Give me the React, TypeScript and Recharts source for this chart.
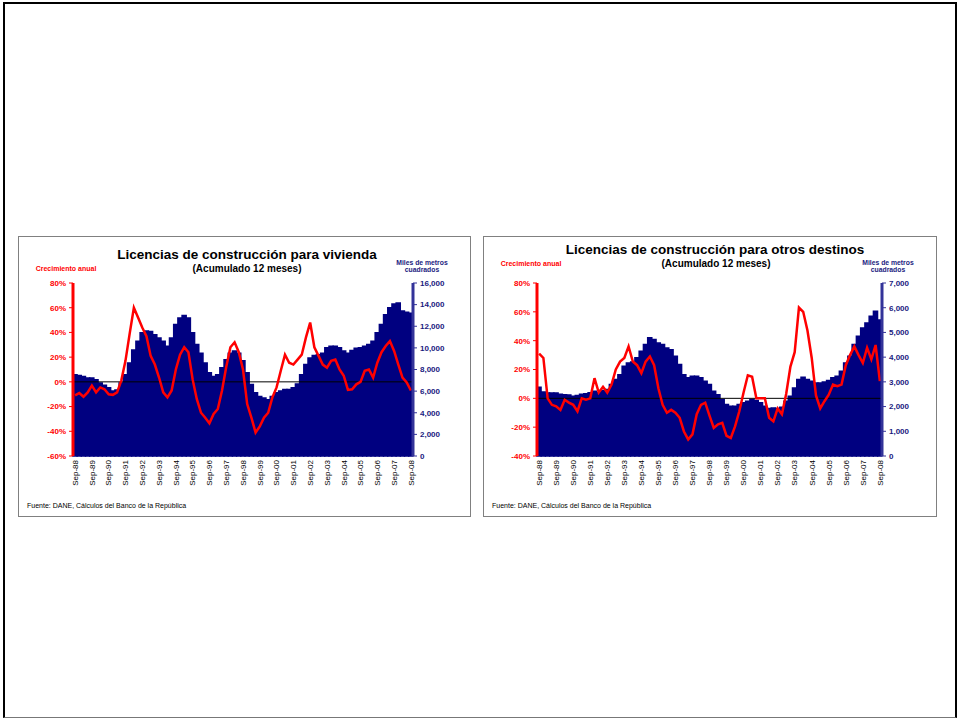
import { ComposedChart, Bar, Line, XAxis, YAxis, ReferenceLine } from 'recharts';

const FONT = '"Liberation Sans", Arial, sans-serif';
const RED = '#ff0000';
const NAVY = '#000080';

// quarterly categories Sep-88 .. Sep-08
const quarterMonths = ['Sep', 'Dec', 'Mar', 'Jun'];
const quarters: string[] = [];
for (let y = 1988; y <= 2008; y++) {
  quarterMonths.forEach((m, i) => {
    if (y === 2008 && i > 0) return;
    const yr = i < 2 ? y : y + 1;
    quarters.push(`${m}-${String(yr % 100).padStart(2, '0')}`);
  });
}

// vivienda: miles de m2 (acumulado 12 meses)
const viviendaArea = [
  7500, 7450, 7350, 7200, 7200, 7050, 6750, 6550, 6300, 6000, 6100, 6750,
  7500, 8600, 9800, 10600, 11400, 11550, 11500, 11200, 10900, 10600, 10150, 10900,
  12150, 12750, 13000, 12750, 11400, 10300, 9500, 8600, 7700, 7350, 7500, 8150,
  8900, 9500, 9700, 9500, 8800, 7700, 6600, 5850, 5500, 5350, 5200, 5500,
  5850, 6000, 6150, 6150, 6300, 6650, 7500, 8450, 9050, 9300, 9350, 9500,
  10000, 10150, 10150, 10000, 9700, 9500, 9750, 9950, 10000, 10150, 10300, 10600,
  11400, 12150, 13050, 13700, 14050, 14150, 13400, 13300, 13200,
];

// vivienda: crecimiento anual (%)
const viviendaGrowth = [
  -11, -9, -12, -8.5, -3, -8.5, -4.5, -6, -10, -10.5, -8.5, 1,
  17, 39, 60, 52, 44, 37, 21, 14, 3.5, -8.5, -12.5, -7,
  10, 22, 28, 24, 2, -14, -25, -29, -33.5, -26, -22, -7,
  12, 28, 32, 24, 10, -18, -29, -41, -36, -29, -25, -12.5,
  -4.5, 9, 22, 15.5, 14, 18, 22, 36, 48, 28, 21, 14,
  11.5, 17, 18, 10, 5, -6.5, -6, -2, 0, 9, 10, 3.5,
  15.5, 24, 29, 33, 25, 14, 3.5, -0.5, -7,
];

// otros destinos: miles de m2
const otrosArea = [
  2780, 2590, 2550, 2550, 2550, 2500, 2480, 2470, 2420, 2450, 2500, 2520,
  2560, 2620, 2560, 2650, 2690, 2890, 3090, 3290, 3630, 3760, 3800, 3970,
  4240, 4510, 4780, 4710, 4570, 4510, 4370, 4300, 4030, 3700, 3290, 3160,
  3220, 3220, 3160, 3020, 2890, 2620, 2480, 2280, 2080, 2010, 2010, 2080,
  2150, 2210, 2280, 2240, 2150, 2010, 1920, 1940, 1920, 1970, 2210, 2420,
  2750, 3090, 3180, 3090, 3020, 2950, 2950, 2990, 3050, 3160, 3220, 3430,
  3760, 4030, 4510, 4840, 5180, 5380, 5650, 5850, 5500,
];

// otros destinos: crecimiento anual (%)
const otrosGrowth = [
  31, 28, 0, -4.5, -5.5, -8, -1, -3, -4.5, -9, 0, -1,
  0, 14, 4, 8, 4, 9.5, 20, 25.5, 28, 36, 25.5, 23,
  17.5, 25.5, 29, 23, 7, -4.5, -10, -8, -10, -13.5, -23, -28.5,
  -25, -11, -4.5, -3, -12, -20.5, -18, -17, -26, -27.5, -19.5, -9,
  4, 16, 15, 0, 0, 0, -13.5, -16, -7, -11, 3, 22,
  32, 63, 60, 47, 28, 2, -7, -2, 2.5, 9.5, 8.5, 9.5,
  23, 30, 36, 30, 24.5, 35, 27, 37, 12,
];

const viviendaPctTicks = [-60, -40, -20, 0, 20, 40, 60, 80];
const viviendaVolTicks = [0, 2000, 4000, 6000, 8000, 10000, 12000, 14000, 16000];
const otrosPctTicks = [-40, -20, 0, 20, 40, 60, 80];
const otrosVolTicks = [0, 1000, 2000, 3000, 4000, 5000, 6000, 7000];

const SepTick = (props: any) => {
  const { x, y, payload } = props;
  return (
    <text
      x={x}
      y={y}
      dy="0.35em"
      transform={`rotate(-90, ${x}, ${y})`}
      textAnchor="end"
      fontSize={8}
      fontFamily={FONT}
      fill="#000"
    >
      {payload.value}
    </text>
  );
};

type PanelProps = {
  left: number;
  width: number;
  title: string;
  titleX: number;
  titleY: number;
  subX: number;
  subY: number;
  growth: number[];
  area: number[];
  pctTicks: number[];
  volTicks: number[];
  leftAxisW: number;
  rightAxisW: number;
};

const Panel = (p: PanelProps) => {
  const data = quarters.map((q, i) => ({ q, area: p.area[i], growth: p.growth[i] }));
  const w = p.width - 2;
  const h = 279;
  return (
    <div
      style={{
        position: 'absolute',
        left: p.left,
        top: 236,
        width: p.width,
        height: 281,
        boxSizing: 'border-box',
        border: '1px solid #808080',
        background: '#fff',
      }}
    >
      <ComposedChart
        width={w}
        height={h}
        data={data}
        margin={{ top: 46, right: 0, left: 0, bottom: 20 }}
        barCategoryGap={0}
        barGap={0}
      >
        <XAxis
          dataKey="q"
          interval={3}
          axisLine={false}
          tickLine={false}
          tickSize={0}
          tickMargin={4}
          height={40}
          tick={<SepTick />}
        />
        <YAxis
          yAxisId="pct"
          orientation="left"
          width={p.leftAxisW}
          domain={[p.pctTicks[0], p.pctTicks[p.pctTicks.length - 1]]}
          ticks={p.pctTicks}
          tickFormatter={(v: number) => `${v}%`}
          axisLine={{ stroke: RED, strokeWidth: 3 }}
          tickLine={{ stroke: RED }}
          tickSize={4}
          tickMargin={3}
          tick={{ fill: RED, fontSize: 8, fontWeight: 'bold', fontFamily: FONT }}
        />
        <YAxis
          yAxisId="vol"
          orientation="right"
          width={p.rightAxisW}
          domain={[0, p.volTicks[p.volTicks.length - 1]]}
          ticks={p.volTicks}
          tickFormatter={(v: number) => v.toLocaleString('en-US')}
          axisLine={{ stroke: '#333399', strokeWidth: 3 }}
          tickLine={{ stroke: '#333399' }}
          tickSize={4}
          tickMargin={3}
          tick={{ fill: '#1a1a80', fontSize: 8, fontWeight: 'bold', fontFamily: FONT }}
        />
        <Bar
          yAxisId="vol"
          dataKey="area"
          fill={NAVY}
          stroke={NAVY}
          strokeWidth={1.6}
          isAnimationActive={false}
        />
        <ReferenceLine yAxisId="pct" y={0} stroke="#000" strokeWidth={1} />
        <Line
          yAxisId="pct"
          dataKey="growth"
          type="linear"
          stroke={RED}
          strokeWidth={2.5}
          dot={false}
          isAnimationActive={false}
        />
      </ComposedChart>
      <svg
        width={w}
        height={h}
        style={{ position: 'absolute', left: 0, top: 0, pointerEvents: 'none' }}
        fontFamily={FONT}
      >
        <text x={p.titleX} y={p.titleY} textAnchor="middle" fontSize={13.5} fontWeight="bold" fill="#000">
          {p.title}
        </text>
        <text x={p.subX} y={p.subY} textAnchor="middle" fontSize={10} fontWeight="bold" fill="#000">
          (Acumulado 12 meses)
        </text>
        <text x={47} y={p.subY - 1} textAnchor="middle" fontSize={7} fontWeight="bold" fill={RED}>
          Crecimiento anual
        </text>
        <text x={w - 48} y={27.5} textAnchor="middle" fontSize={6.8} fontWeight="bold" fill="#1a1a80">
          Miles de metros
        </text>
        <text x={w - 48} y={35} textAnchor="middle" fontSize={6.8} fontWeight="bold" fill="#1a1a80">
          cuadrados
        </text>
        <text x={8} y={271} fontSize={7} fill="#000">
          Fuente: DANE, Cálculos del Banco de la República
        </text>
      </svg>
    </div>
  );
};

export default function App() {
  return (
    <div style={{ position: 'absolute', left: 0, top: 0, width: 961, height: 721, background: '#fff', fontFamily: FONT }}>
      <div
        style={{
          position: 'absolute',
          left: 3,
          top: 2,
          width: 954,
          height: 716,
          boxSizing: 'border-box',
          borderTop: '2px solid #000',
          borderLeft: '2px solid #000',
          borderRight: '2px solid #000',
          borderBottom: '1px solid #777',
        }}
      />
      <Panel
        left={18}
        width={453}
        title="Licencias de construcción para vivienda"
        titleX={228}
        titleY={22}
        subX={228}
        subY={35}
        growth={viviendaGrowth}
        area={viviendaArea}
        pctTicks={viviendaPctTicks}
        volTicks={viviendaVolTicks}
        leftAxisW={54}
        rightAxisW={57}
      />
      <Panel
        left={483}
        width={454}
        title="Licencias de construcción para otros destinos"
        titleX={231}
        titleY={17}
        subX={232}
        subY={30}
        growth={otrosGrowth}
        area={otrosArea}
        pctTicks={otrosPctTicks}
        volTicks={otrosVolTicks}
        leftAxisW={53}
        rightAxisW={54}
      />
    </div>
  );
}
